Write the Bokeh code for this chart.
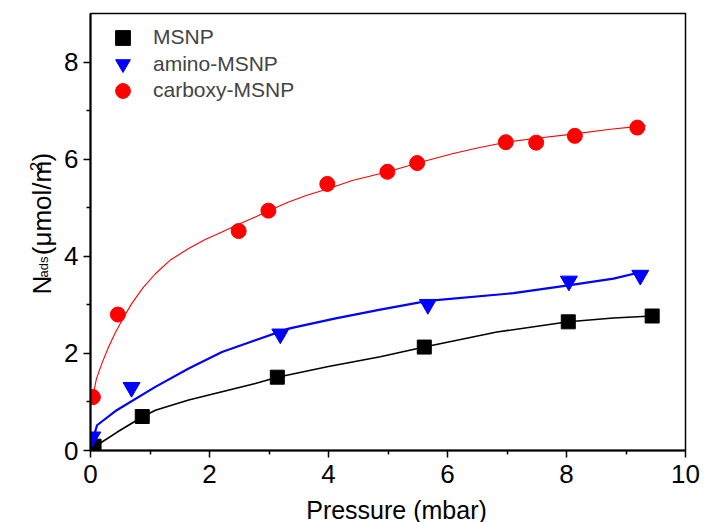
import math
from bokeh.plotting import figure
from bokeh.models import Legend, LegendItem, Range1d, FixedTicker
from bokeh.layouts import row, column
from bokeh.core.properties import value
from bokeh.embed import file_html
from bokeh.resources import INLINE

# ---- data ----
msnp_x = [0.06, 0.87, 3.14, 5.61, 8.03, 9.44]
msnp_y = [0.09, 0.70, 1.51, 2.13, 2.65, 2.77]
amino_x = [0.03, 0.69, 3.19, 5.67, 8.04, 9.24]
amino_y = [0.28, 1.30, 2.40, 3.01, 3.49, 3.61]
carboxy_x = [0.04, 0.46, 2.49, 2.99, 3.98, 4.99, 5.49, 6.98, 7.49, 8.14, 9.19]
carboxy_y = [1.10, 2.80, 4.52, 4.94, 5.49, 5.74, 5.92, 6.35, 6.34, 6.48, 6.65]

# fitted curves
msnp_fit_x = [0.0, 0.2, 0.45, 0.87, 1.09, 1.65, 2.21, 2.77, 3.14, 4.0, 4.87, 5.61, 6.83, 8.03, 8.79, 9.44]
msnp_fit_y = [0.0, 0.18, 0.38, 0.69, 0.83, 1.04, 1.21, 1.38, 1.51, 1.73, 1.93, 2.13, 2.44, 2.65, 2.73, 2.77]
amino_fit_x = [0.0, 0.11, 0.44, 1.09, 1.65, 2.21, 2.77, 3.33, 4.12, 4.87, 5.67, 7.11, 8.03, 8.79, 9.24]
amino_fit_y = [0.07, 0.52, 0.83, 1.31, 1.69, 2.03, 2.27, 2.51, 2.72, 2.90, 3.08, 3.24, 3.40, 3.54, 3.67]
carboxy_fit_x = [0.02, 0.05, 0.10, 0.19, 0.30, 0.41, 0.55, 0.69, 0.88, 1.09, 1.35, 1.65, 1.92, 2.21, 2.49,
                 2.77, 3.05, 3.33, 3.65, 3.97, 4.40, 5.0, 5.5, 6.08, 6.5, 6.98, 7.5, 8.14, 8.7, 9.33]
carboxy_fit_y = [1.12, 1.17, 1.48, 1.79, 2.12, 2.41, 2.73, 3.02, 3.35, 3.64, 3.93, 4.16, 4.34, 4.50, 4.66,
                 4.81, 4.97, 5.12, 5.26, 5.38, 5.56, 5.74, 5.92, 6.11, 6.23, 6.35, 6.43, 6.52, 6.61, 6.69]

labels = ["MSNP", "amino-MSNP", "carboxy-MSNP"]
x_ticks = [0, 2, 4, 6, 8, 10]
x_minor = [1, 3, 5, 7, 9]
y_ticks = [0, 2, 4, 6, 8]
y_minor = [1, 3, 5, 7]
x_title = "Pressure (mbar)"
y_title_parts = ["N", "ads", "(\u03bcmol/m", "2", ")"]

FONT = "Liberation Sans"
STRIP_W = 60

# ---------------- main plot ----------------
p = figure(width=704 - STRIP_W, height=490, output_backend="svg", toolbar_location=None,
           x_range=Range1d(0, 10), y_range=Range1d(0, 9),
           min_border_left=90 - STRIP_W, min_border_right=19, min_border_top=13, min_border_bottom=40)
p.background_fill_color = "white"
p.border_fill_color = "white"
p.outline_line_color = "black"
p.outline_line_width = 1.5
p.xgrid.visible = False
p.ygrid.visible = False

for ax in (p.xaxis[0], p.yaxis[0]):
    ax.axis_line_width = 2
    ax.axis_line_color = "black"
    ax.major_tick_line_width = 1.5
    ax.minor_tick_line_width = 1.5
    ax.major_tick_out = 7
    ax.major_tick_in = 0
    ax.minor_tick_out = 4
    ax.minor_tick_in = 0
    ax.major_label_text_font = FONT
    ax.major_label_text_font_size = "26px"
    ax.major_label_text_color = "black"
    ax.axis_label = None

p.xaxis[0].ticker = FixedTicker(ticks=x_ticks, minor_ticks=x_minor)
p.yaxis[0].ticker = FixedTicker(ticks=y_ticks, minor_ticks=y_minor)
p.xaxis[0].major_label_standoff = 7
p.yaxis[0].major_label_standoff = 5

# fit lines
p.line(msnp_fit_x, msnp_fit_y, line_color="black", line_width=1.6)
p.line(amino_fit_x, amino_fit_y, line_color="#0000ff", line_width=2.2)
p.line(carboxy_fit_x, carboxy_fit_y, line_color="#ff0000", line_width=1.1)

# markers
r1 = p.scatter(msnp_x, msnp_y, marker="square", size=14, fill_color="black", line_color="black")
r2 = p.scatter(amino_x, amino_y, marker="inverted_triangle", size=17, fill_color="#0000ff", line_color="#0000ff")
r3 = p.scatter(carboxy_x, carboxy_y, marker="circle", size=15, fill_color="#ff0000", line_color="#ff0000")

# one legend per row so the rows can sit closer than the glyph boxes
for i, (lbl, r) in enumerate(zip(labels, [r1, r2, r3])):
    lg = Legend(items=[LegendItem(label=lbl, renderers=[r])],
                location=(14, 394.5 - i * 26.7), glyph_width=37, glyph_height=37, label_height=37,
                spacing=0, padding=0, margin=0, label_standoff=12,
                label_text_font=FONT, label_text_font_size="21px",
                border_line_color=None, background_fill_alpha=0)
    p.add_layout(lg)

# ---------------- title strips (pixel coordinates) ----------------
def strip(w, h):
    f = figure(width=w, height=h, output_backend="svg", toolbar_location=None,
               x_range=Range1d(0, w), y_range=Range1d(0, h),
               x_axis_type=None, y_axis_type=None, min_border=0)
    f.outline_line_color = None
    f.grid.visible = False
    f.background_fill_color = "white"
    f.border_fill_color = "white"
    return f

yl = strip(STRIP_W, 490)
A = math.pi / 2
ypos = [(41, 175, "26px"), (43, 194, "13px"), (41, 219, "26px"), (35, 313, "17px"), (41, 324, "26px")]
for txt, (sx, sy, fs) in zip(y_title_parts, ypos):
    yl.text(x=[sx], y=[sy], text=[txt], angle=A, text_font=value(FONT), text_font_size=value(fs),
            text_align="left", text_baseline="alphabetic", text_color="black")

xl = strip(704, 32)
xl.text(x=[396], y=[13], text=[x_title], text_font=value(FONT), text_font_size=value("25px"),
        text_align="center", text_baseline="alphabetic", text_color="black")

layout = column(row(yl, p, spacing=0), xl, spacing=0)
open("out.html", "w").write(file_html(layout, INLINE))
